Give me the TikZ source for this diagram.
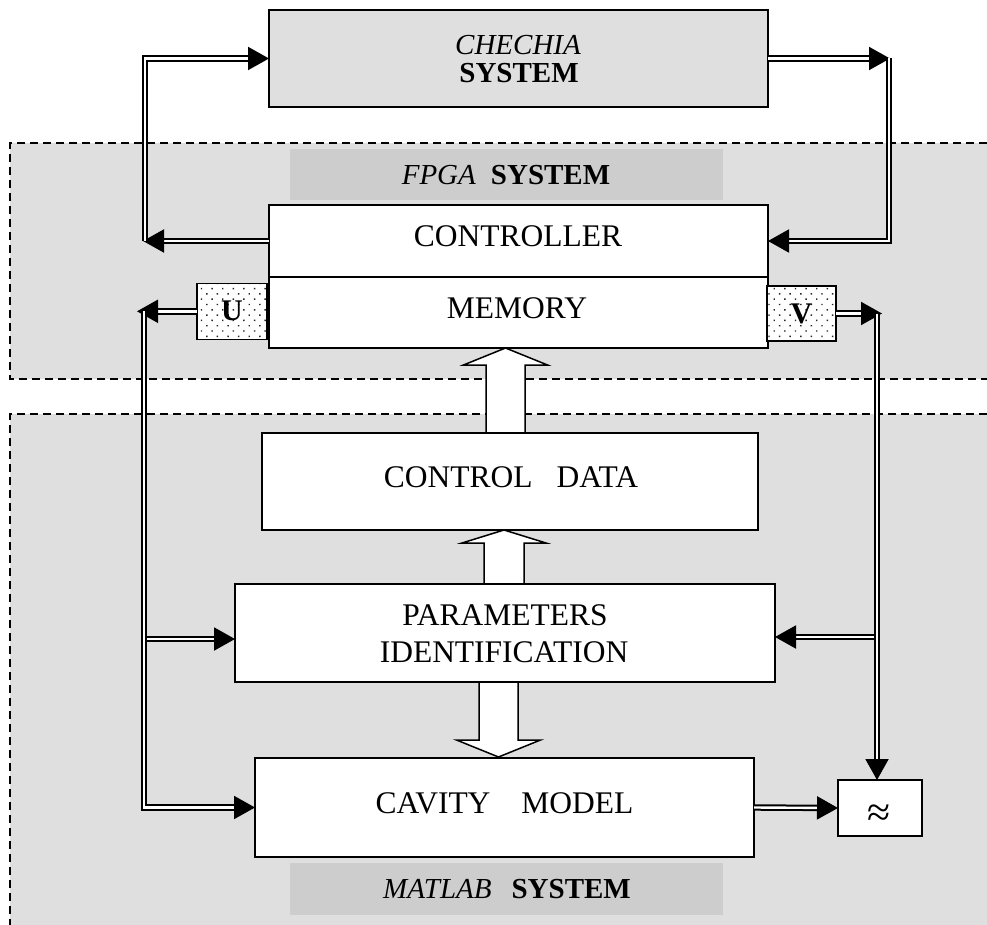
\documentclass[tikz,border=0pt]{standalone}
\usepackage{fontspec}
\setmainfont{Liberation Serif}
\usetikzlibrary{arrows.meta,patterns.meta,calc}
\definecolor{regfill}{HTML}{DFDFDF}
\definecolor{labfill}{HTML}{CDCDCD}
\newcommand\bxf{\fontsize{31.5}{37}\selectfont}
\newcommand\lbf{\fontsize{29}{28}\selectfont}
\begin{document}
\begin{tikzpicture}[x=1pt,y=-1pt,
  region/.style={draw=none, fill=regfill},
  dashline/.style={line width=1.2pt, dash pattern=on 8pt off 5pt},
  mainbox/.style={draw, line width=2pt, fill=white, inner sep=0pt, outer sep=0pt},
  labbox/.style={draw=none, fill=labfill, inner sep=0pt, outer sep=0pt},
  dotbox/.style={draw, line width=1.5pt, preaction={fill=white},
     pattern={Dots[distance=7.5pt, radius=1pt, angle=45]}, pattern color=black!85,
     inner sep=0pt, outer sep=0pt, font=\fontsize{30}{30}\selectfont\bfseries},
  txt/.style={inner sep=0pt, outer sep=0pt, anchor=base},
  dbl/.style={draw=black, double=white, line width=2pt, double distance=2.4pt,
     -{Triangle[length=21pt,width=23pt]}},
  blk/.style={draw, fill=white, line width=1.5pt, line join=miter}]
\useasboundingbox (0,0) rectangle (987,925);

% regions
\fill[regfill] (10,143) rectangle (1000,379);
\draw[dashline] (1000,143) -- (10,143) -- (10,379) -- (1000,379);
\fill[regfill] (10,414) rectangle (1000,940);
\draw[dashline] (1000,414) -- (10,414) -- (10,940);

% block arrows
\draw[blk] (486,433) -- (486,365) -- (463.5,365) -- (505.5,348) -- (547.5,365) -- (525,365) -- (525,433);
\draw[blk] (484,584) -- (484,543) -- (462,543) -- (504,530) -- (546,543) -- (524,543) -- (524,584);
\draw[blk] (479,682) -- (479,740) -- (456.5,740) -- (498.5,757) -- (540.5,740) -- (518,740) -- (518,682);

% boxes
\node[mainbox, fill=regfill, minimum width=499pt, minimum height=97pt] (chechia) at (518.5,58.5) {};
\node[labbox, minimum width=433pt, minimum height=51pt] (fpgalab) at (506.5,174.5) {};
\node[mainbox, minimum width=499pt, minimum height=72pt] (ctrl) at (518.5,241) {};
\node[mainbox, minimum width=499pt, minimum height=71pt] (mem) at (518.5,312.5) {};
\node[dotbox, minimum width=70pt, minimum height=56pt] (U) at (232,311.3) {U};
\node[dotbox, minimum width=69pt, minimum height=55pt] (V) at (801.5,313.5) {V};
\node[mainbox, minimum width=496pt, minimum height=97pt] (cdata) at (510,481.5) {};
\node[mainbox, minimum width=540pt, minimum height=98pt] (param) at (505,633) {};
\node[mainbox, minimum width=499pt, minimum height=99pt] (cavity) at (504.5,807.5) {};
\node[mainbox, line width=1.5pt, minimum width=84pt, minimum height=56pt] (approx) at (880,808) {};
\node[labbox, minimum width=433pt, minimum height=52pt] (matlablab) at (506.5,889) {};

% texts
\node[txt, font=\lbf\itshape] (t1) at (518,55) {CHECHIA};
\node[txt, font=\lbf\bfseries] (t2) at (519,83) {SYSTEM};
\node[txt, font=\lbf] (t3) at (506,185) {\textit{FPGA}\hspace{15pt}\textbf{SYSTEM}};
\node[txt, font=\bxf] (t4) at (518,247) {CONTROLLER};
\node[txt, font=\bxf] (t5) at (517,318) {MEMORY};
\node[txt, font=\bxf] (t6) at (511,487) {CONTROL\hspace{24pt}DATA};
\node[txt, font=\bxf] (t7) at (505,625) {PARAMETERS};
\node[txt, font=\bxf] (t8) at (504,662) {IDENTIFICATION};
\node[txt, font=\bxf] (t9) at (504.5,813) {CAVITY\hspace{31pt}MODEL};
\node[txt, font=\lbf] (t10) at (507,898) {\textit{MATLAB}\hspace{20pt}\textbf{SYSTEM}};
\node[txt, font=\fontsize{42}{42}\selectfont] (t11) at (879.5,826) {≈};

% coordinates
\coordinate (cl) at (143,241);
\coordinate (lb) at (145,241);
\coordinate (tr) at (890,58.5);
\coordinate (rt) at (889,58.5);
\coordinate (ut) at (137,311.3);
\coordinate (uv) at (144,311.3);
\coordinate (ujp) at (144,639);
\coordinate (vt) at (882,313.5);
\coordinate (vv) at (877,313.5);
\coordinate (vjp) at (877,637);

% double arrows
\draw[dbl] (ctrl.west) -- (cl);
\draw[dbl] (lb) |- (chechia.west);
\draw[dbl] (chechia.east) -- (tr);
\draw[dbl] (rt) |- (ctrl.east);
\draw[dbl] (U.west) -- (ut);
\draw[dbl] (ujp) -- (ujp -| param.west);
\draw[dbl] (uv) |- (cavity.west);
\draw[dbl] (V.east) -- (vt);
\draw[dbl] (vjp) -- (vjp -| param.east);
\draw[dbl] (vv) -- (vv |- approx.north);
\draw[dbl] (cavity.east) -- (approx.west);
\end{tikzpicture}
\end{document}
